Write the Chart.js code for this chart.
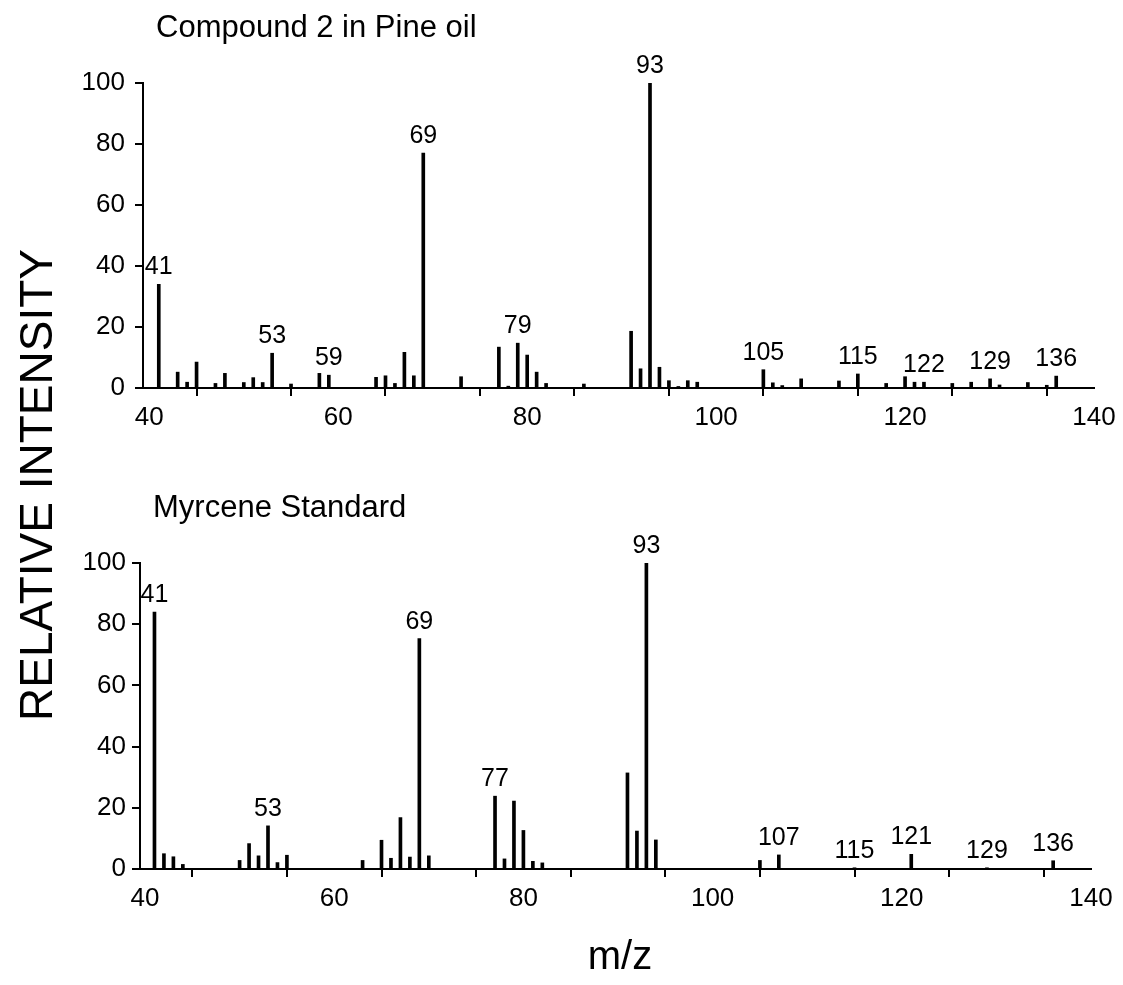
<!DOCTYPE html>
<html>
<head>
<meta charset="utf-8">
<script src="https://cdn.jsdelivr.net/npm/chart.js@4/dist/chart.umd.min.js"></script>
<style>
  html, body { margin: 0; padding: 0; background: #fff; }
  #wrap { position: relative; width: 1123px; height: 985px; }
  #wrap canvas { position: absolute; left: 0; top: 0; }
</style>
</head>
<body>
<div id="wrap">
  <canvas id="pineChart" width="1123" height="985"></canvas>
  <canvas id="myrceneChart" width="1123" height="985"></canvas>
</div>
<script>
// Mass spectrum of compound 2 found in pine oil (m/z, relative intensity %)
const pineMz = [41, 43, 44, 45, 47, 48, 50, 51, 52, 53, 55, 58, 59, 64, 65, 66, 67, 68, 69, 73,
  77, 78, 79, 80, 81, 82, 86, 91, 92, 93, 94, 95, 96, 97, 98, 105, 106, 107, 109, 113,
  115, 118, 120, 121, 122, 125, 127, 129, 130, 133, 135, 136];
const pineIntensity = [34, 5.2, 1.9, 8.5, 1.5, 4.8, 1.8, 3.4, 1.8, 11.4, 1.3, 4.8, 4.2, 3.5, 4, 1.5, 11.7, 4, 77, 3.7,
  13.4, 0.6, 14.7, 10.8, 5.2, 1.5, 1.3, 18.6, 6.3, 100, 6.8, 2.4, 0.5, 2.4, 1.9, 6.0, 1.7, 0.8, 3, 2.3,
  4.6, 1.5, 3.7, 1.9, 1.9, 1.5, 1.9, 3.0, 1.0, 1.8, 0.9, 3.9];
const pineLabeledPeaks = [41, 53, 59, 69, 79, 93, 105, 115, 122, 129, 136];

// Mass spectrum of the myrcene reference standard
const myrceneMz = [41, 42, 43, 44, 50, 51, 52, 53, 54, 55, 63, 65, 66, 67, 68, 69, 70,
  77, 78, 79, 80, 81, 82, 91, 92, 93, 94, 105, 107, 115, 121, 129, 136];
const myrceneIntensity = [84, 5, 4, 1.5, 2.8, 8.3, 4.3, 14.1, 2.1, 4.5, 2.8, 9.4, 3.5, 16.8, 3.9, 75.3, 4.3,
  23.8, 3.3, 22.2, 12.6, 2.5, 2.0, 31.4, 12.4, 100, 9.5, 2.8, 4.6, 0.4, 4.8, 0.4, 2.7];
const myrceneLabeledPeaks = [41, 53, 69, 77, 93, 107, 115, 121, 129, 136];

// Axis ticks
const mzTicks = [40, 50, 60, 70, 80, 90, 100, 110, 120, 130, 140];
const intensityTicks = [0, 20, 40, 60, 80, 100];

const FONT = "'Liberation Sans', Arial, Helvetica, sans-serif";

// Writes the m/z value above each labelled peak
const peakLabelPlugin = {
  id: 'peakLabels',
  afterDatasetsDraw(chart, args, opts) {
    const { ctx, scales: { x, y } } = chart;
    const mz = opts.mz, vals = opts.values;
    ctx.save();
    ctx.fillStyle = '#000';
    ctx.font = '25px ' + FONT;
    ctx.textAlign = 'center';
    ctx.textBaseline = 'alphabetic';
    opts.peaks.forEach(p => {
      const i = mz.indexOf(p);
      if (i < 0) return;
      const px = x.getPixelForValue(p);
      const py = y.getPixelForValue(vals[i]);
      ctx.fillText(String(p), px, py - 10);
    });
    ctx.restore();
  }
};

// Panel title and shared axis captions
const captionPlugin = {
  id: 'captions',
  afterDraw(chart, args, opts) {
    const { ctx, chartArea } = chart;
    ctx.save();
    ctx.fillStyle = '#000';
    ctx.textBaseline = 'alphabetic';
    ctx.font = '31px ' + FONT;
    ctx.textAlign = 'left';
    ctx.fillText(opts.title, chartArea.left + 13, chartArea.top - opts.titleGap);
    if (opts.shared) {
      ctx.font = '40px ' + FONT;
      ctx.textAlign = 'center';
      ctx.fillText('m/z', 620, 969);
      ctx.font = '46px ' + FONT;
      ctx.translate(52, 485);
      ctx.rotate(-Math.PI / 2);
      ctx.fillText('RELATIVE INTENSITY', 0, 0);
    }
    ctx.restore();
  }
};

function buildChart(canvasId, mz, values, peaks, cfg) {
  const points = mz.map((m, i) => ({ x: m, y: values[i] }));
  return new Chart(document.getElementById(canvasId), {
    type: 'bar',
    data: {
      datasets: [{
        data: points,
        backgroundColor: '#000',
        borderWidth: 0,
        barThickness: 3
      }]
    },
    options: {
      responsive: false,
      animation: false,
      devicePixelRatio: 1,
      layout: { padding: cfg.padding },
      plugins: {
        legend: { display: false },
        tooltip: { enabled: false },
        title: { display: false },
        peakLabels: { mz: mz, values: values, peaks: peaks },
        captions: { title: cfg.title, titleGap: cfg.titleGap, shared: cfg.shared }
      },
      scales: {
        x: {
          type: 'linear',
          min: cfg.xMin,
          max: 140,
          offset: false,
          afterBuildTicks: s => { s.ticks = mzTicks.map(v => ({ value: v })); },
          afterFit: s => { s.height = 45; },
          ticks: {
            autoSkip: false,
            maxRotation: 0,
            color: '#000',
            padding: 6,
            font: { family: FONT, size: 26 },
            callback: v => (v % 20 === 0 ? String(v) : '')
          },
          grid: { drawOnChartArea: false, drawTicks: true, tickLength: 8, color: '#000', lineWidth: 2 },
          border: { display: true, color: '#000', width: 2 }
        },
        y: {
          type: 'linear',
          min: 0,
          max: 100,
          afterBuildTicks: s => { s.ticks = intensityTicks.map(v => ({ value: v })); },
          afterFit: s => { s.width = cfg.yAxisWidth; },
          ticks: {
            color: '#000',
            padding: cfg.yTickPad,
            font: { family: FONT, size: 26 }
          },
          grid: { drawOnChartArea: false, drawTicks: true, tickLength: 8, color: '#000', lineWidth: 2 },
          border: { display: true, color: '#000', width: 2 }
        }
      }
    },
    plugins: [peakLabelPlugin, captionPlugin]
  });
}

buildChart('pineChart', pineMz, pineIntensity, pineLabeledPeaks, {
  title: 'Compound 2 in Pine oil',
  titleGap: 46,
  shared: false,
  xMin: 39.33,
  yAxisWidth: 143,
  yTickPad: 10,
  padding: { left: 0, right: 29, top: 83, bottom: 552 }
});

buildChart('myrceneChart', myrceneMz, myrceneIntensity, myrceneLabeledPeaks, {
  title: 'Myrcene Standard',
  titleGap: 46,
  shared: true,
  xMin: 39.47,
  yAxisWidth: 140,
  yTickPad: 6,
  padding: { left: 0, right: 32, top: 563, bottom: 71 }
});
</script>
</body>
</html>
